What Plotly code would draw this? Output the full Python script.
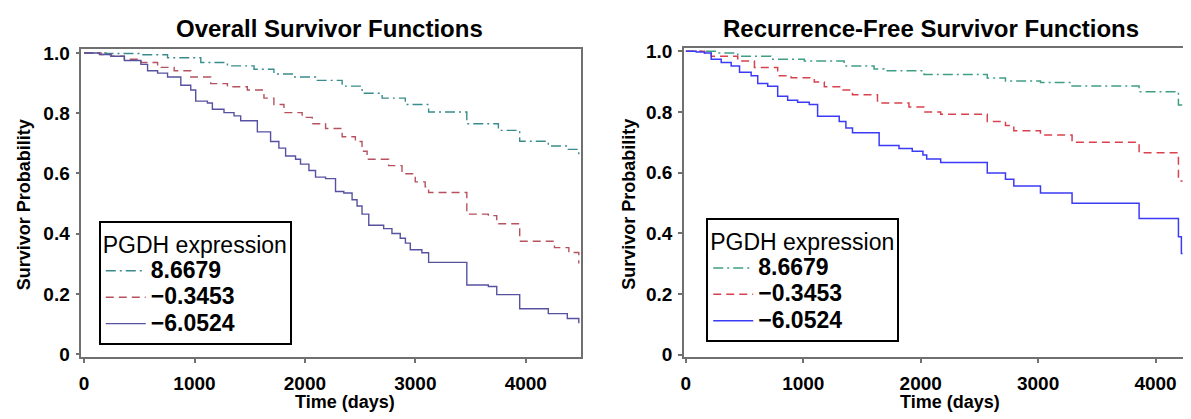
import plotly.graph_objects as go

# ---------------- data ----------------
groups = ["8.6679", "\u22120.3453", "\u22126.0524"]

# Overall survivor functions
os_hi_t = [0, 200, 515, 756, 1057, 1298, 1539, 1719, 1900, 2096, 2337, 2518, 2699, 2909, 3120, 3466, 3752, 3945, 4204, 4376, 4480]
os_hi_s = [1.0, 0.998, 0.994, 0.984, 0.968, 0.957, 0.946, 0.930, 0.920, 0.909, 0.890, 0.866, 0.850, 0.829, 0.804, 0.765, 0.743, 0.707, 0.691, 0.680, 0.653]

os_mid_t = [0, 154, 244, 365, 515, 666, 816, 966, 1147, 1298, 1478, 1629, 1719, 1810, 1975, 2066, 2187, 2337, 2457, 2517, 2563, 2758, 2879, 2999, 3089, 3120, 3466, 3661, 3737, 3945, 4260, 4390, 4480]
os_mid_s = [1.0, 0.995, 0.989, 0.979, 0.968, 0.952, 0.941, 0.920, 0.898, 0.888, 0.877, 0.850, 0.829, 0.802, 0.786, 0.765, 0.749, 0.722, 0.706, 0.674, 0.647, 0.626, 0.599, 0.572, 0.556, 0.537, 0.465, 0.460, 0.433, 0.375, 0.354, 0.338, 0.301]

os_lo_t = [0, 139, 244, 365, 515, 575, 666, 756, 876, 966, 1011, 1117, 1162, 1267, 1358, 1418, 1569, 1689, 1764, 1825, 1915, 1960, 2036, 2096, 2187, 2277, 2352, 2427, 2472, 2517, 2578, 2713, 2788, 2863, 2910, 2954, 3059, 3120, 3466, 3661, 3737, 3945, 4204, 4376, 4480]
os_lo_s = [1.0, 0.995, 0.989, 0.975, 0.962, 0.941, 0.933, 0.920, 0.893, 0.877, 0.840, 0.834, 0.813, 0.802, 0.791, 0.775, 0.738, 0.706, 0.684, 0.658, 0.647, 0.631, 0.610, 0.588, 0.583, 0.540, 0.535, 0.513, 0.492, 0.465, 0.428, 0.417, 0.401, 0.385, 0.369, 0.347, 0.337, 0.305, 0.230, 0.225, 0.198, 0.151, 0.135, 0.119, 0.103]

# Recurrence-free survivor functions
rf_hi_t = [0, 250, 442, 725, 1009, 1348, 1603, 1688, 2028, 2567, 2722, 3020, 3289, 3860, 4195, 4230]
rf_hi_s = [1.0, 0.995, 0.984, 0.974, 0.968, 0.952, 0.942, 0.936, 0.924, 0.912, 0.902, 0.897, 0.886, 0.867, 0.823, 0.823]

rf_mid_t = [0, 159, 216, 442, 584, 782, 896, 1094, 1179, 1320, 1419, 1632, 1900, 2028, 2170, 2567, 2722, 2793, 3020, 3289, 3860, 4195, 4230]
rf_mid_s = [1.0, 0.995, 0.984, 0.968, 0.947, 0.920, 0.913, 0.899, 0.883, 0.873, 0.857, 0.830, 0.817, 0.800, 0.793, 0.769, 0.756, 0.738, 0.724, 0.700, 0.666, 0.573, 0.573]

rf_lo_t = [0, 88, 159, 216, 301, 386, 457, 556, 612, 697, 782, 867, 952, 1051, 1122, 1306, 1363, 1419, 1646, 1815, 1928, 2019, 2051, 2170, 2567, 2722, 2793, 3020, 3289, 3860, 4195, 4220, 4230]
rf_lo_s = [1.0, 0.998, 0.995, 0.974, 0.963, 0.952, 0.931, 0.920, 0.894, 0.885, 0.852, 0.839, 0.832, 0.825, 0.786, 0.769, 0.747, 0.732, 0.690, 0.680, 0.671, 0.658, 0.645, 0.634, 0.599, 0.578, 0.556, 0.533, 0.499, 0.449, 0.389, 0.334, 0.334]

x_ticks = [0, 1000, 2000, 3000, 4000]
x_tick_text = ["0", "1000", "2000", "3000", "4000"]
y_ticks = [0, 0.2, 0.4, 0.6, 0.8, 1.0]
y_tick_text = ["0", "0.2", "0.4", "0.6", "0.8", "1.0"]

panel_titles = ["Overall Survivor Functions", "Recurrence-Free Survivor Functions"]
x_title = "Time (days)"
y_title = "Survivor Probability"
legend_title = "PGDH expression"

# ---------------- styling ----------------
FONT = "Liberation Sans, Arial, sans-serif"
left_colors = ["#3a8c8c", "#b5525e", "#5752a0"]
right_colors = ["#3f9f85", "#d9414e", "#3b3bf5"]
dashes = ["10px,4px,2px,4px", "8px,5px", "solid"]
AX = "#707070"


def legend_label(txt):
    # bigger glyphs than the legend's nominal font, to keep the rows tight
    return '<span style="font-size:23px">' + txt + '</span>'


fig = go.Figure()

left_series = [(os_hi_t, os_hi_s), (os_mid_t, os_mid_s), (os_lo_t, os_lo_s)]
right_series = [(rf_hi_t, rf_hi_s), (rf_mid_t, rf_mid_s), (rf_lo_t, rf_lo_s)]

for i, (t, s) in enumerate(left_series):
    fig.add_trace(go.Scatter(
        x=t, y=s, mode="lines", name=legend_label(groups[i]), line_shape="hv",
        line=dict(color=left_colors[i], width=1.4, dash=dashes[i]),
        xaxis="x", yaxis="y", legend="legend", hoverinfo="skip"))

for i, (t, s) in enumerate(right_series):
    fig.add_trace(go.Scatter(
        x=t, y=s, mode="lines", name=legend_label(groups[i]), line_shape="hv",
        line=dict(color=right_colors[i], width=1.5, dash=dashes[i]),
        xaxis="x2", yaxis="y2", legend="legend2", hoverinfo="skip"))

# the page body has an 8px margin, so the figure starts at (8, 8) in the window
OFF = 8
W, H = 1191 - OFF, 419 - OFF

def px_x(p):
    return (p - OFF) / W

def px_y(p):
    return 1 - (p - OFF) / H

axis_common = dict(
    showline=True, linecolor=AX, linewidth=1.5, mirror=True,
    ticks="outside", ticklen=4, tickwidth=1.5, tickcolor=AX,
    showgrid=False, zeroline=False,
    tickfont=dict(family=FONT, size=19, color="black", weight="bold"),
)

legend_common = dict(
    xanchor="left", yanchor="top",
    bgcolor="white", bordercolor="black", borderwidth=2,
    font=dict(family=FONT, size=18, color="black", weight="bold"),
    title=dict(text=legend_title, font=dict(family=FONT, size=23, color="black", weight="normal")),
    itemwidth=40, tracegroupgap=0,
)

fig.update_layout(
    width=W, height=H,
    margin=dict(l=0, r=0, t=0, b=0),
    paper_bgcolor="white", plot_bgcolor="white",
    xaxis=dict(domain=[px_x(78.5), px_x(579)], range=[-25, 4496], anchor="y",
               tickvals=x_ticks, ticktext=x_tick_text, ticklabelstandoff=4, **axis_common),
    yaxis=dict(domain=[px_y(363.3), px_y(44)], range=[-0.0096, 1.0138], anchor="x",
               tickvals=y_ticks, ticktext=y_tick_text, ticklabelstandoff=2, **axis_common),
    xaxis2=dict(domain=[px_x(682.7), px_x(1185)], range=[-16, 4251], anchor="y2",
                tickvals=x_ticks, ticktext=x_tick_text, ticklabelstandoff=4, **axis_common),
    yaxis2=dict(domain=[px_y(363.3), px_y(42.7)], range=[-0.0083, 1.0127], anchor="x2",
                tickvals=y_ticks, ticktext=y_tick_text, ticklabelstandoff=2, **axis_common),
    legend=dict(x=px_x(96), y=px_y(222), **legend_common),
    legend2=dict(x=px_x(705), y=px_y(219), **legend_common),
    showlegend=True,
)

title_font = dict(family=FONT, size=24, color="black", weight="bold")
axt_font = dict(family=FONT, size=18, color="black", weight="bold")

annos = [
    dict(text=panel_titles[0], x=px_x(327), y=px_y(23), font=title_font),
    dict(text=panel_titles[1], x=px_x(930), y=px_y(23), font=title_font),
    dict(text=x_title, x=px_x(343), y=px_y(410), font=axt_font),
    dict(text=x_title, x=px_x(949), y=px_y(410), font=axt_font),
    dict(text=y_title, x=px_x(21), y=px_y(205), font=axt_font, textangle=-90),
    dict(text=y_title, x=px_x(628), y=px_y(205), font=axt_font, textangle=-90),
]
for a in annos:
    fig.add_annotation(xref="paper", yref="paper", xanchor="center", yanchor="middle",
                       showarrow=False, **a)

fig.write_html("out.html")
